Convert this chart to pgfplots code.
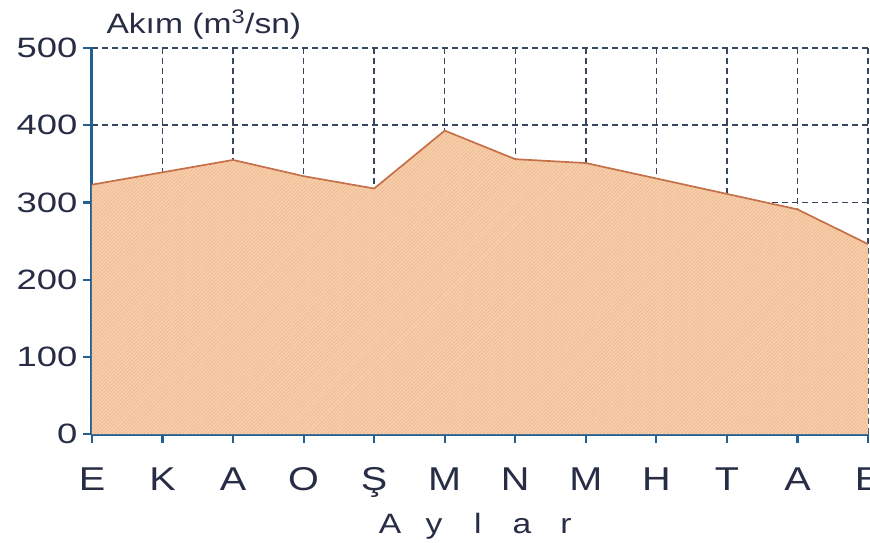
\documentclass[border=0pt]{standalone}
\usepackage{fontspec}
\setmainfont[FakeStretch=1.2]{Liberation Sans}
\newfontfamily\tickfont[FakeStretch=1.3]{Liberation Sans}
\usepackage{pgfplots}
\pgfplotsset{compat=1.18}
\usetikzlibrary{patterns.meta}
\definecolor{fillc}{RGB}{249,208,172}
\definecolor{hatchc}{RGB}{236,184,145}
\definecolor{linec}{RGB}{196,112,72}
\definecolor{axisc}{RGB}{35,95,145}
\definecolor{gridc}{RGB}{55,70,95}
\definecolor{textc}{RGB}{40,45,70}
\pgfplotsset{layers/mylayers/.define layer set={axis background,axis grid,main,axis ticks,axis lines,axis tick labels,axis descriptions,axis foreground}{}}
\begin{document}
\begin{tikzpicture}
\begin{axis}[name=ax, at={(0,0)}, anchor=south west, scale only axis,
  set layers=mylayers,
  width=776pt, height=386pt,
  xmin=0, xmax=11, ymin=0, ymax=500,
  xtick={0,...,11}, xticklabels={E,K,A,O,Ş,M,N,M,H,T,A,E},
  ytick={0,100,...,500},
  axis lines=left, axis line style={axisc, line width=3pt, -},
  grid=major, major grid style={gridc, dash pattern=on 6pt off 4pt, line width=1.5pt},
  tick align=outside, major tick length=9pt, tick style={axisc, line width=2.2pt},
  xticklabel style={font=\fontsize{33}{36}\selectfont, text=textc, yshift=-21pt},
  yticklabel style={font=\tickfont\fontsize{28}{30}\selectfont, text=textc, xshift=-2pt},
  /pgf/number format/assume math mode=true,
  clip=false]
\addplot[draw=none, fill=fillc, postaction={pattern={Lines[angle=45, distance=2.5pt, line width=0.7pt]}, pattern color=hatchc}] coordinates {
(0,323) (1,339) (2,355) (3,334) (4,318) (5,393) (6,356) (7,351) (8,331) (9,311) (10,291) (11,246)
} \closedcycle;
\addplot[draw=linec, line width=1.7pt] coordinates {
(0,323) (1,339) (2,355) (3,334) (4,318) (5,393) (6,356) (7,351) (8,331) (9,311) (10,291) (11,246)
};
\node[anchor=base west, xshift=11pt, yshift=15pt, font=\fontsize{28}{30}\selectfont, text=textc] at (rel axis cs:0,1) {Akım (m\textsuperscript{3}/sn)};
\node[anchor=base, yshift=-99pt, font=\fontsize{28}{30}\selectfont, text=textc] at (rel axis cs:0.4974,0) {\makebox[44pt]{A}\makebox[44pt]{y}\makebox[44pt]{l}\makebox[44pt]{a}\makebox[44pt]{r}};
\end{axis}
\pgfresetboundingbox
\path[use as bounding box] (-92pt,-108pt) rectangle (778pt,434pt);
\end{tikzpicture}
\end{document}
